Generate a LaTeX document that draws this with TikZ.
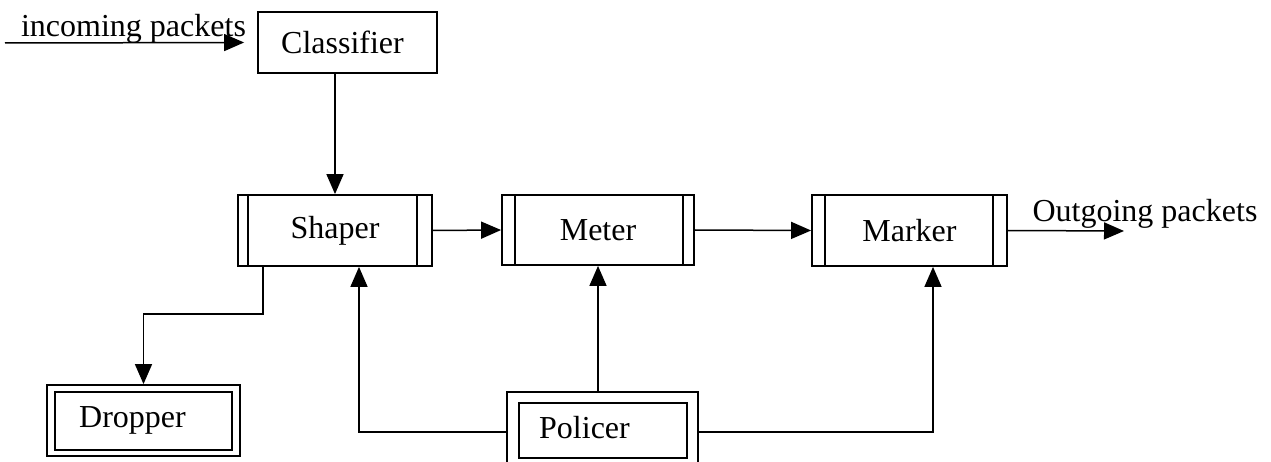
\documentclass[tikz,border=0pt]{standalone}
\usepackage{fontspec}
\setmainfont{Liberation Serif}
\usetikzlibrary{arrows.meta}
\begin{document}
\begin{tikzpicture}[x=1pt,y=-1pt,
  lbl/.style={font=\fontsize{32}{38}\selectfont},
  box/.style={draw, line width=1.8pt, inner sep=0pt, lbl},
  sidebox/.style n args={2}{box, path picture={
      \draw[line width=1.8pt] ([xshift=#1]path picture bounding box.north west) -- ([xshift=#1]path picture bounding box.south west);
      \draw[line width=1.8pt] ([xshift=-#2]path picture bounding box.north east) -- ([xshift=-#2]path picture bounding box.south east);}},
  dblbox/.style n args={4}{box, path picture={
      \draw[line width=1.8pt] ([shift={(#1,-#3)}]path picture bounding box.north west) rectangle ([shift={(-#2,#4)}]path picture bounding box.south east);}},
  arr/.style={line width=1.5pt, -{Triangle[length=20pt,width=17pt]}}]
\useasboundingbox (0,0) rectangle (1271,462);
\fill[white] (0,0) rectangle (1271,462);

\node[box, minimum width=179pt, minimum height=61pt] (cl) at (347.5,42.5) {Classifier\rule{10pt}{0pt}};
\node[sidebox={10pt}{15pt}, minimum width=194pt, minimum height=71pt] (sh) at (335,230.5) {Shaper};
\node[sidebox={13pt}{11pt}, minimum width=192pt, minimum height=70pt] (me) at (598,230) {Meter};
\node[sidebox={13pt}{14pt}, minimum width=195pt, minimum height=71pt] (mk) at (909.5,230.5) {Marker};
\node[dblbox={8pt}{8pt}{7pt}{6pt}, minimum width=193pt, minimum height=71pt] (dr) at (143.5,420.5) {Dropper\rule{22pt}{0pt}};
\node[dblbox={12pt}{11pt}{11pt}{6pt}, minimum width=191pt, minimum height=72pt] (po) at (602.5,428) {Policer\rule{36pt}{0pt}};

\node[lbl, anchor=base] (inl) at (133.5,37) {incoming packets};
\node[lbl, anchor=base] (outl) at (1145,222) {Outgoing packets};
\coordinate (in) at (5,43);
\coordinate (out) at (1124,231);

\draw[arr] (in) -- ([xshift=-13pt]cl.west);
\draw[arr] (cl.south -| sh.north) -- (sh.north);
\draw[arr] (sh.east) -- (me.west);
\draw[arr] (me.east) -- (mk.west);
\draw[arr] (mk.east) -- (out);
\draw[arr] ([xshift=-72pt]sh.south) -- ++(0,47) -| (dr.north);
\draw[arr] ([yshift=-4pt]po.west) -| ([xshift=24pt]sh.south);
\draw[arr] (po.north -| me.south) -- (me.south);
\draw[arr] ([yshift=-4pt]po.east) -| ([xshift=23.5pt]mk.south);
\end{tikzpicture}
\end{document}
